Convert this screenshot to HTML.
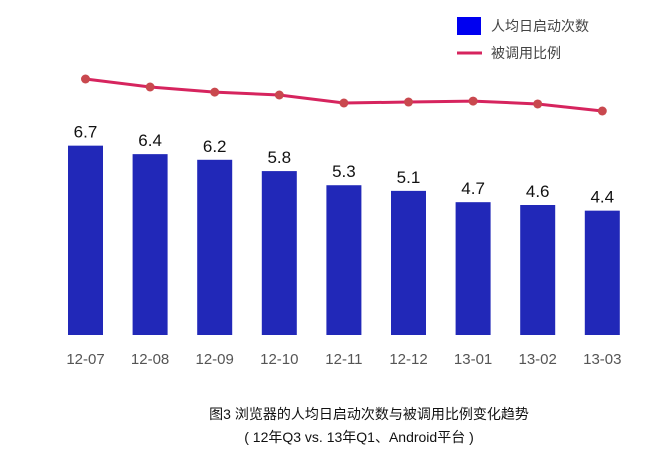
<!DOCTYPE html>
<html><head><meta charset="utf-8"><style>
body{margin:0;background:#fff;}
svg text{font-family:"Liberation Sans","Noto Sans CJK SC",sans-serif;}
</style></head><body>
<svg id="chart" width="653" height="458" xmlns="http://www.w3.org/2000/svg">
<g id="bars"></g>
<g id="line"></g>
<g id="xlabels"></g>
<g>
<rect x="457" y="17" width="24" height="18" fill="#0000f0"/>
<text x="491" y="31" font-size="14" fill="#444">人均日启动次数</text>
<line x1="457" y1="53" x2="482" y2="53" stroke="#d6245e" stroke-width="3"/>
<text x="491" y="58" font-size="14" fill="#444">被调用比例</text>
</g>
<text x="369" y="419" font-size="14" text-anchor="middle" fill="#111">图3 浏览器的人均日启动次数与被调用比例变化趋势</text>
<text x="359" y="442" font-size="14" text-anchor="middle" fill="#111">( 12年Q3 vs. 13年Q1、Android平台 )</text>
</svg>
<script>
const categories=["12-07","12-08","12-09","12-10","12-11","12-12","13-01","13-02","13-03"];
const launches=[6.7,6.4,6.2,5.8,5.3,5.1,4.7,4.6,4.4];
const ratio=[60.5,58.0,56.4,55.5,53.0,53.3,53.6,52.7,50.5];
const NS="http://www.w3.org/2000/svg";
const xC=i=>85.5+i*64.6;
const yB=v=>335-v*28.26;
const yL=v=>79+(60.5-v)*3.2;
const bars=document.getElementById('bars'),lg=document.getElementById('line'),xl=document.getElementById('xlabels');
function mk(t,a){const e=document.createElementNS(NS,t);for(const k in a)e.setAttribute(k,a[k]);return e;}
launches.forEach((v,i)=>{
 const r=mk('rect',{x:xC(i)-17.5,y:yB(v),width:35,height:335-yB(v),fill:'#2128b8'});
 
 
 bars.appendChild(r);
 const t=mk('text',{x:xC(i),y:yB(v)-8,'font-size':17,'text-anchor':'middle',fill:'#111'});
 t.textContent=v.toFixed(1);
 
 
 bars.appendChild(t);
 const x=mk('text',{x:xC(i),y:364,'font-size':15,'text-anchor':'middle',fill:'#555'});
 x.textContent=categories[i];
 
 
 xl.appendChild(x);
});
const pl=mk('polyline',{points:ratio.map((v,i)=>xC(i)+','+yL(v)).join(' '),fill:'none',stroke:'#d6245e','stroke-width':3});


lg.appendChild(pl);
ratio.forEach((v,i)=>{
 const c=mk('circle',{cx:xC(i),cy:yL(v),r:4.5,fill:'#c9484e'});
 
 
 lg.appendChild(c);
});
</script>
</body></html>
